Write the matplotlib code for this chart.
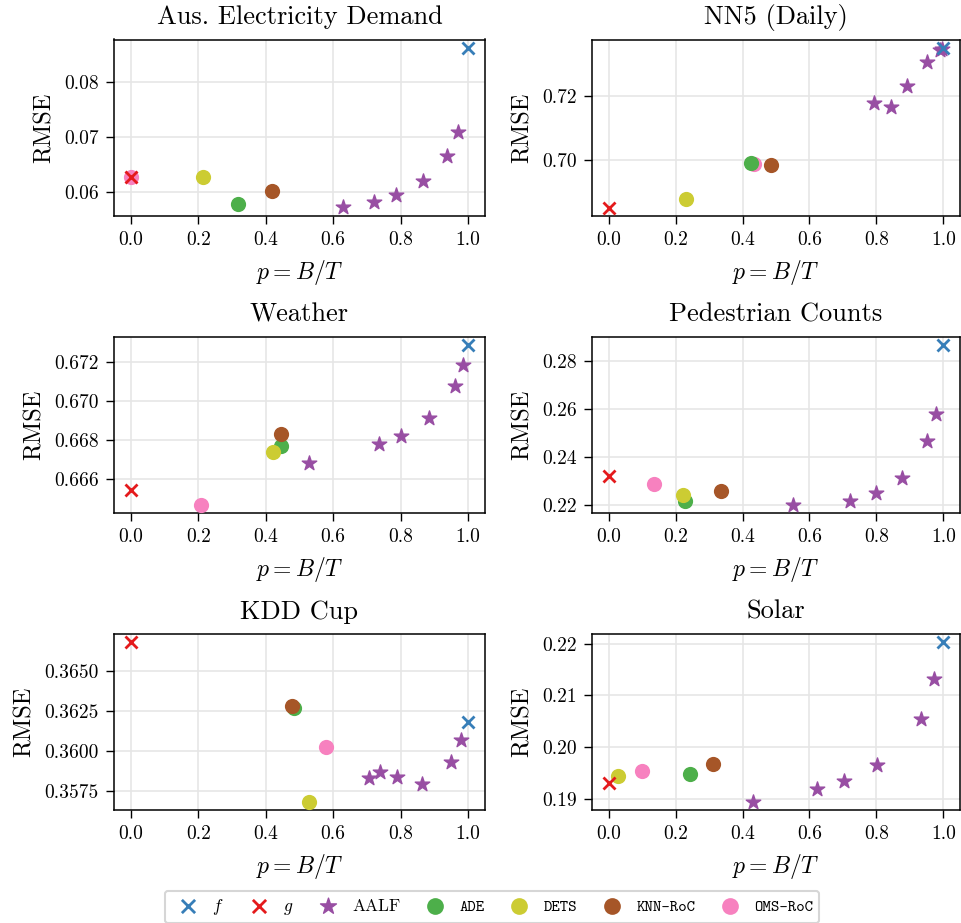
import numpy as np
import matplotlib
matplotlib.use('Agg')
import matplotlib.pyplot as plt
from matplotlib.ticker import FormatStrFormatter, MultipleLocator
from matplotlib.font_manager import FontProperties

plt.rcParams['font.family'] = 'serif'
plt.rcParams['font.serif'] = ['cmr10']
plt.rcParams['mathtext.fontset'] = 'cm'
plt.rcParams['axes.formatter.use_mathtext'] = True

methods = ['f', 'g', 'AALF', 'ADE', 'DETS', 'KNN-RoC', 'OMS-RoC']
colors = {'f': '#377eb8', 'g': '#e41a1c', 'AALF': '#984ea3', 'ADE': '#4daf4a',
          'DETS': '#cccc33', 'KNN-RoC': '#a65628', 'OMS-RoC': '#f781bf'}

titles = ['Aus. Electricity Demand', 'NN5 (Daily)', 'Weather', 'Pedestrian Counts', 'KDD Cup', 'Solar']

# (p, rmse) per method and dataset
aus = {
    'f': ([1.0], [0.0861]), 'g': ([0.0], [0.0627]),
    'AALF': ([0.629, 0.722, 0.787, 0.866, 0.938, 0.970], [0.0573, 0.0583, 0.0595, 0.0620, 0.0666, 0.0708]),
    'ADE': ([0.319], [0.0578]), 'DETS': ([0.213], [0.0627]),
    'KNN-RoC': ([0.418], [0.0602]), 'OMS-RoC': ([0.0], [0.0627]),
}
nn5 = {
    'f': ([1.0], [0.7349]), 'g': ([0.0], [0.6851]),
    'AALF': ([0.794, 0.843, 0.891, 0.951, 0.990, 0.997], [0.7177, 0.7167, 0.7231, 0.7307, 0.7345, 0.7347]),
    'ADE': ([0.425], [0.6992]), 'DETS': ([0.232], [0.6878]),
    'KNN-RoC': ([0.485], [0.6985]), 'OMS-RoC': ([0.435], [0.6989]),
}
weather = {
    'f': ([1.0], [0.67287]), 'g': ([0.0], [0.66547]),
    'AALF': ([0.528, 0.735, 0.801, 0.883, 0.960, 0.986], [0.66680, 0.66779, 0.66820, 0.66911, 0.67077, 0.67183]),
    'ADE': ([0.446], [0.66771]), 'DETS': ([0.421], [0.66737]),
    'KNN-RoC': ([0.446], [0.66833]), 'OMS-RoC': ([0.207], [0.66467]),
}
ped = {
    'f': ([1.0], [0.2869]), 'g': ([0.0], [0.2319]),
    'AALF': ([0.552, 0.722, 0.799, 0.876, 0.950, 0.978], [0.2197, 0.2214, 0.2249, 0.2312, 0.2468, 0.2580]),
    'ADE': ([0.227], [0.2214]), 'DETS': ([0.221], [0.2239]),
    'KNN-RoC': ([0.337], [0.2257]), 'OMS-RoC': ([0.134], [0.2288]),
}
kdd = {
    'f': ([1.0], [0.36183]), 'g': ([0.0], [0.36679]),
    'AALF': ([0.705, 0.738, 0.789, 0.864, 0.949, 0.979], [0.35833, 0.35865, 0.35835, 0.35794, 0.35933, 0.36065]),
    'ADE': ([0.485], [0.36267]), 'DETS': ([0.529], [0.35681]),
    'KNN-RoC': ([0.479], [0.36281]), 'OMS-RoC': ([0.579], [0.36027]),
}
solar = {
    'f': ([1.0], [0.2203]), 'g': ([0.0], [0.19316]),
    'AALF': ([0.432, 0.622, 0.702, 0.803, 0.932, 0.972], [0.18942, 0.19194, 0.19342, 0.19658, 0.20542, 0.21316]),
    'ADE': ([0.244], [0.19477]), 'DETS': ([0.027], [0.19452]),
    'KNN-RoC': ([0.311], [0.19684]), 'OMS-RoC': ([0.098], [0.19542]),
}
datasets = [aus, nn5, weather, ped, kdd, solar]
ylims = [(0.0557, 0.0876), (0.6825, 0.7377), (0.66427, 0.67326), (0.2165, 0.2902), (0.35631, 0.36729), (0.18787, 0.22187)]
ysteps = [0.01, 0.02, 0.002, 0.02, 0.0025, 0.01]
yfmts = ['%.2f', '%.2f', '%.3f', '%.2f', '%.4f', '%.2f']

W, H = 961, 923
fig = plt.figure(figsize=(W / 100, H / 100), dpi=100)
lefts = [114, 592]
widths = [371, 368]
rows = [(39.5, 216), (337, 513), (634, 810)]

draw_order = ['OMS-RoC', 'ADE', 'DETS', 'KNN-RoC', 'AALF', 'f', 'g']
handles = {}
for i, (d, title) in enumerate(zip(datasets, titles)):
    r, c = divmod(i, 2)
    top, bot = rows[r]
    ax = fig.add_axes([lefts[c] / W, 1 - bot / H, widths[c] / W, (bot - top) / H])
    for m in draw_order:
        x, y = d[m]
        if m in ('f', 'g'):
            h = ax.scatter(x, y, marker='x', s=75, linewidths=2, color=colors[m], zorder=4)
        elif m == 'AALF':
            h = ax.scatter(x, y, marker='*', s=120, color=colors[m], zorder=3)
        else:
            h = ax.scatter(x, y, marker='o', s=120, color=colors[m], linewidths=0, zorder=3)
        handles[m] = h
    ax.set_xlim(-0.05, 1.05)
    ax.set_ylim(*ylims[i])
    ax.set_xticks([0, 0.2, 0.4, 0.6, 0.8, 1.0])
    ax.xaxis.set_major_formatter(FormatStrFormatter('%.1f'))
    ax.yaxis.set_major_locator(MultipleLocator(ysteps[i]))
    ax.yaxis.set_major_formatter(FormatStrFormatter(yfmts[i]))
    ax.grid(True, color='#e6e6e6', linewidth=1.2)
    ax.set_axisbelow(True)
    ax.tick_params(labelsize=14, direction='out', length=6, width=1, pad=5)
    for s in ax.spines.values():
        s.set_linewidth(1.1)
    ax.set_title(title, fontsize=19, pad=11)
    ax.set_xlabel('$p = B/T$', fontsize=17, labelpad=6)
    ax.set_ylabel('RMSE', fontsize=17.5, labelpad=6)

labels = ['$f$', '$g$', 'AALF', 'ADE', 'DETS', 'KNN-RoC', 'OMS-RoC']
leg = fig.legend([handles[m] for m in methods], labels, loc='center', bbox_to_anchor=(0.512, 0.0173),
                 ncol=7, fontsize=12.5, frameon=True, fancybox=True, edgecolor='#cccccc',
                 handletextpad=0.4, columnspacing=1.0, borderpad=0.35, markerscale=1.1)
tt = FontProperties(family='cmtt10', size=11.5)
for t, m in zip(leg.get_texts(), methods):
    if m in ('ADE', 'DETS', 'KNN-RoC', 'OMS-RoC'):
        t.set_fontproperties(tt)
leg.get_frame().set_linewidth(1.5)

fig.savefig('out.png', dpi=100)
